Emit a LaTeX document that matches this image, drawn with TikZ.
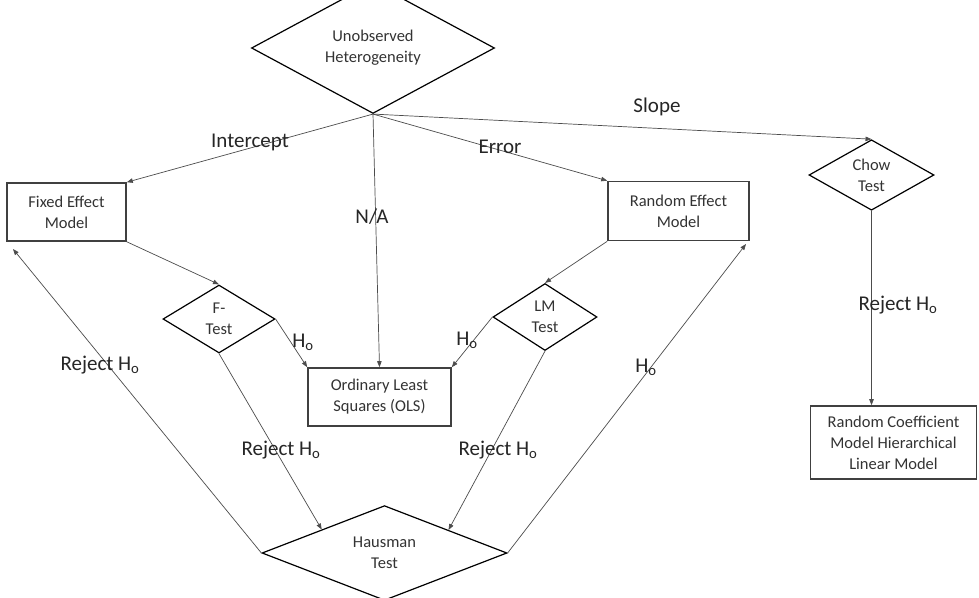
\documentclass[tikz,border=0pt]{standalone}
\usepackage{fontspec}
\setmainfont{Carlito}
\usetikzlibrary{shapes.geometric,arrows.meta,calc}
\newcommand\myNodeFont{\fontsize{16.5}{21}\selectfont}
\newcommand\myLabFont{\fontsize{21}{24}\selectfont}
\begin{document}
\begin{tikzpicture}[x=1pt,y=-1pt,
  box/.style={draw=black!75, line width=1.6pt, rectangle, inner sep=0pt, align=center, font=\myNodeFont, text=black!80},
  dia/.style={draw=black, line width=1.2pt, diamond, inner sep=0pt, align=center, font=\myNodeFont, text=black!80},
  conn/.style={draw=black!70, line width=0.7pt, -{Triangle[length=6pt,width=4.5pt]}},
  lab/.style={font=\myLabFont, text=black!85, inner sep=0pt}]
\path[fill=white, use as bounding box] (0,0) rectangle (979,597);

% nodes
\node[dia, minimum width=243, minimum height=88] (top) at (373,48) {Unobserved\\Heterogeneity};
\node[box, minimum width=119, minimum height=58] (fe) at (66.5,212) {Fixed Effect\\Model};
\node[box, minimum width=143, minimum height=58] (ols) at (379.5,397) {Ordinary Least\\Squares (OLS)};
\node[box, minimum width=141, minimum height=59] (re) at (678.5,211) {Random Effect\\Model};
\node[dia, minimum width=125, minimum height=69] (chow) at (871.5,175) {Chow\\Test};
\node[box, minimum width=166, minimum height=73] (rcm) at (893.5,442.5) {Random Coefficient\\Model Hierarchical\\Linear Model};
\node[dia, minimum width=112, minimum height=68] (ft) at (219,319) {F-\\Test};
\node[dia, minimum width=104, minimum height=67] (lm) at (545,317) {LM\\Test};
\node[dia, minimum width=245, minimum height=86] (haus) at (384.5,553) {Hausman\\Test};

\coordinate (feIn) at (13,249);
\coordinate (reIn) at (746,244);

% connectors
\draw[conn] (top.south) -- (fe.north east);
\draw[conn] (top.south) -- (ols.north);
\draw[conn] (top.south) -- (re.north west);
\draw[conn] (top.south) -- (chow.north);
\draw[conn] (fe.south east) -- (ft.north);
\draw[conn] (ft.east) -- (ols.north west);
\draw[conn] (ft.south) -- ($(haus.west)!0.49!(haus.north)$);
\draw[conn] (re.south west) -- (lm.north);
\draw[conn] (lm.west) -- (ols.north east);
\draw[conn] (lm.south) -- ($(haus.north)!0.52!(haus.east)$);
\draw[conn] (haus.west) -- (feIn);
\draw[conn] (haus.east) -- (reIn);
\draw[conn] (chow.south) -- (chow.south |- rcm.north);

% labels
\node[lab] (lInt) at (250,142) {Intercept};
\node[lab] (lNA) at (372,217) {N/A};
\node[lab] (lErr) at (500,147) {Error};
\node[lab] (lSlope) at (657,107) {Slope};
\node[lab] (lRejL) at (100,365) {Reject H\textsubscript{o}};
\node[lab] (lHoR) at (646,367) {H\textsubscript{o}};
\node[lab] (lHoF) at (303,342) {H\textsubscript{o}};
\node[lab] (lHoLM) at (467,340) {H\textsubscript{o}};
\node[lab] (lRejF) at (281,450) {Reject H\textsubscript{o}};
\node[lab] (lRejLM) at (498,450) {Reject H\textsubscript{o}};
\node[lab] (lRejC) at (898,305) {Reject H\textsubscript{o}};
\end{tikzpicture}
\end{document}
